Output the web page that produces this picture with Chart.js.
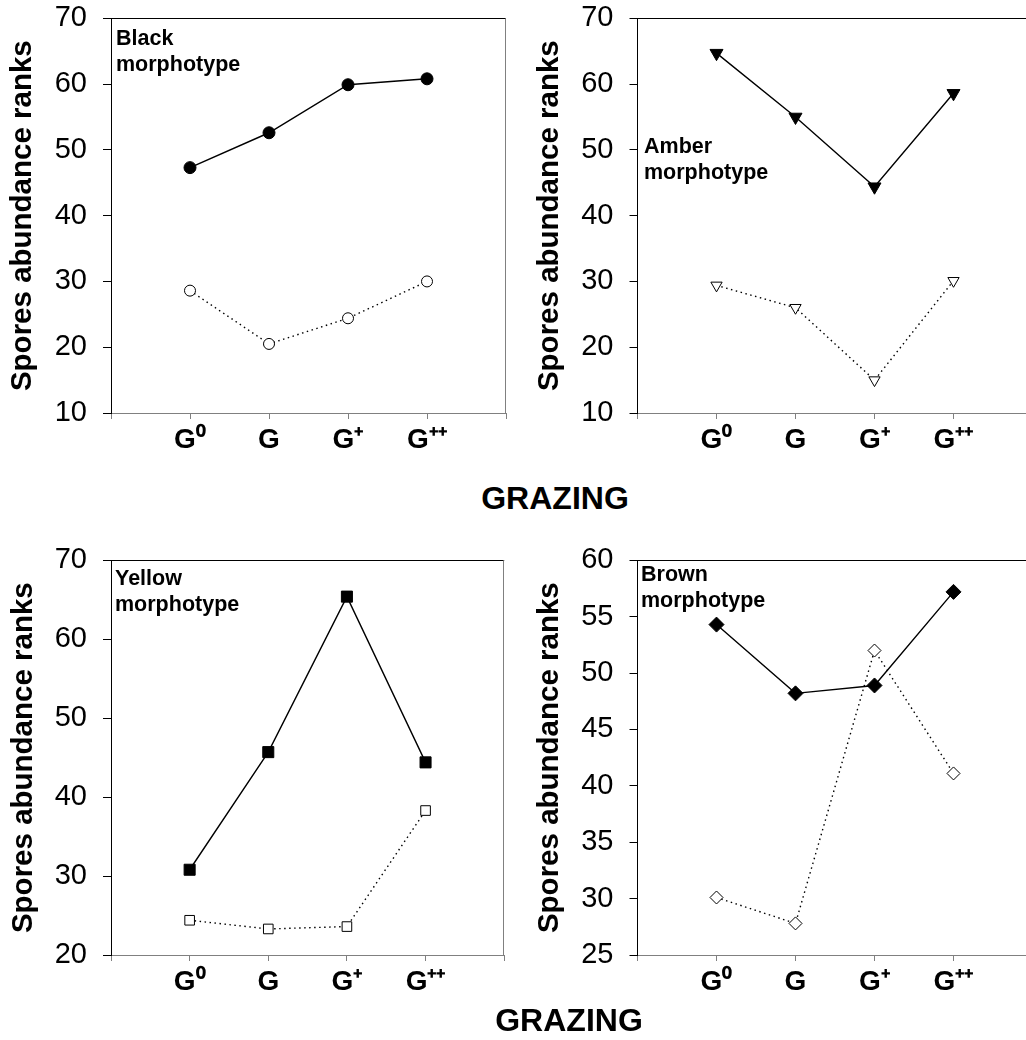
<!DOCTYPE html>
<html>
<head>
<meta charset="utf-8">
<script src="https://cdn.jsdelivr.net/npm/chart.js@4.4.0/dist/chart.umd.min.js"></script>
<style>
  html, body { margin: 0; padding: 0; background: #fff; }
  body { width: 1026px; height: 1040px; position: relative; overflow: hidden; font-family: "Liberation Sans", Arial, sans-serif; }
  canvas { position: absolute; }
  .morph { position: absolute; font-weight: bold; font-size: 21.5px; line-height: 26px; color: #000; }
  .grazing { position: absolute; width: 300px; text-align: center; font-weight: bold; font-size: 32px; line-height: 32px; color: #000; }
</style>
</head>
<body>
<canvas id="blackChart" width="513" height="470" style="left:0;top:0"></canvas>
<canvas id="amberChart" width="530" height="470" style="left:513px;top:0"></canvas>
<canvas id="yellowChart" width="513" height="470" style="left:0;top:542px"></canvas>
<canvas id="brownChart" width="530" height="470" style="left:513px;top:542px"></canvas>

<div class="morph" style="left:116px;top:25px">Black<br>morphotype</div>
<div class="morph" style="left:644px;top:133px">Amber<br>morphotype</div>
<div class="morph" style="left:115px;top:565px">Yellow<br>morphotype</div>
<div class="morph" style="left:641px;top:561px">Brown<br>morphotype</div>

<div class="grazing" style="left:405px;top:482px">GRAZING</div>
<div class="grazing" style="left:419px;top:1004px">GRAZING</div>

<script>
const FONT = '"Liberation Sans", Arial, sans-serif';

// grazing levels on the x axis
const grazingLevels = ['G\u2070', 'G', 'G\u207A', 'G\u207A\u207A'];

// spore abundance ranks (filled = solid line, open = dotted line)
const blackFilled = [47.3, 52.6, 59.9, 60.8];
const blackOpen = [28.6, 20.5, 24.4, 30.0];
const amberFilled = [64.7, 55.0, 44.4, 58.6];
const amberOpen = [29.4, 26.0, 15.0, 30.1];
const yellowFilled = [30.8, 45.7, 65.4, 44.4];
const yellowOpen = [24.4, 23.3, 23.6, 38.3];
const brownFilled = [54.3, 48.2, 48.9, 57.2];
const brownOpen = [30.1, 27.8, 52.0, 41.1];

// y tick labels for each panel
const blackTicks = [10, 20, 30, 40, 50, 60, 70];
const amberTicks = [10, 20, 30, 40, 50, 60, 70];
const yellowTicks = [20, 30, 40, 50, 60, 70];
const brownTicks = [25, 30, 35, 40, 45, 50, 55, 60];

// top and right edges of the plot box
const framePlugin = {
    id: 'frame',
    beforeDatasetsDraw(chart) {
        const { ctx, chartArea: a } = chart;
        ctx.save();
        ctx.lineWidth = 1;
        ctx.strokeStyle = '#000';
        ctx.beginPath();
        ctx.moveTo(a.left, Math.round(a.top) + 0.5);
        ctx.lineTo(a.right, Math.round(a.top) + 0.5);
        ctx.stroke();
        ctx.strokeStyle = '#808080';
        ctx.beginPath();
        ctx.moveTo(Math.round(a.right) - 0.5, a.top);
        ctx.lineTo(Math.round(a.right) - 0.5, a.bottom);
        ctx.stroke();
        ctx.restore();
    }
};

function toPoints(values) {
    return values.map((y, i) => ({ x: i + 1, y: y }));
}

function makePanel(id, filled, open, ticks, marker, leftWidth, rightPad, titlePad) {
    const ctx = document.getElementById(id).getContext('2d');
    return new Chart(ctx, {
        type: 'line',
        data: {
            datasets: [{
                data: toPoints(filled),
                borderColor: '#000',
                borderWidth: 1.4,
                pointStyle: marker.style,
                pointRotation: marker.rotation,
                pointRadius: marker.filledRadius,
                pointBackgroundColor: '#000',
                pointBorderColor: '#000',
                pointBorderWidth: 1,
                tension: 0,
                fill: false
            }, {
                data: toPoints(open),
                borderColor: '#000',
                borderWidth: 1.4,
                borderDash: [1.5, 3.5],
                pointStyle: marker.style,
                pointRotation: marker.rotation,
                pointRadius: marker.openRadius,
                pointBackgroundColor: '#fff',
                pointBorderColor: '#000',
                pointBorderWidth: 1,
                tension: 0,
                fill: false
            }]
        },
        options: {
            responsive: false,
            animation: false,
            events: [],
            layout: { padding: { top: 18.3, right: rightPad, left: 0, bottom: 0 } },
            plugins: { legend: { display: false }, tooltip: { enabled: false } },
            scales: {
                x: {
                    type: 'linear',
                    min: 0,
                    max: grazingLevels.length + 1,
                    ticks: {
                        stepSize: 1,
                        autoSkip: false,
                        maxRotation: 0,
                        padding: 4,
                        color: '#000',
                        font: { family: FONT, size: 28, weight: 'bold' },
                        callback: v => grazingLevels[v - 1] || ''
                    },
                    grid: { drawOnChartArea: false, tickLength: 6, color: '#808080' },
                    border: { color: '#808080', width: 1 },
                    afterFit: s => {
                        s.height = 57;
                        s.paddingLeft = 0;
                        s.paddingRight = 0;
                    }
                },
                y: {
                    type: 'linear',
                    min: ticks[0],
                    max: ticks[ticks.length - 1],
                    ticks: {
                        stepSize: ticks[1] - ticks[0],
                        padding: 16,
                        color: '#000',
                        font: { family: FONT, size: 29 }
                    },
                    grid: { drawOnChartArea: false, tickLength: 8, color: '#000' },
                    border: { color: '#000', width: 1 },
                    title: {
                        display: true,
                        text: 'Spores abundance ranks',
                        color: '#000',
                        font: { family: FONT, size: 29.5, weight: 'bold' },
                        padding: { top: titlePad, bottom: 0 }
                    },
                    afterFit: s => {
                        s.width = leftWidth;
                        s.paddingTop = 0;
                        s.paddingBottom = 0;
                    }
                }
            }
        },
        plugins: [framePlugin]
    });
}

const circle = { style: 'circle', rotation: 0, filledRadius: 6, openRadius: 5.5 };
const triangleDown = { style: 'triangle', rotation: 180, filledRadius: 7.5, openRadius: 6.5 };
const square = { style: 'rect', rotation: 0, filledRadius: 7.8, openRadius: 6.8 };
const diamond = { style: 'rectRot', rotation: 0, filledRadius: 7.5, openRadius: 6.5 };

makePanel('blackChart', blackFilled, blackOpen, blackTicks, circle, 111, 7, 5.3);
makePanel('amberChart', amberFilled, amberOpen, amberTicks, triangleDown, 124.5, 10.5, 19.3);
makePanel('yellowChart', yellowFilled, yellowOpen, yellowTicks, square, 111, 7, 6.3);
makePanel('brownChart', brownFilled, brownOpen, brownTicks, diamond, 124.5, 10.5, 19.3);
</script>
</body>
</html>
